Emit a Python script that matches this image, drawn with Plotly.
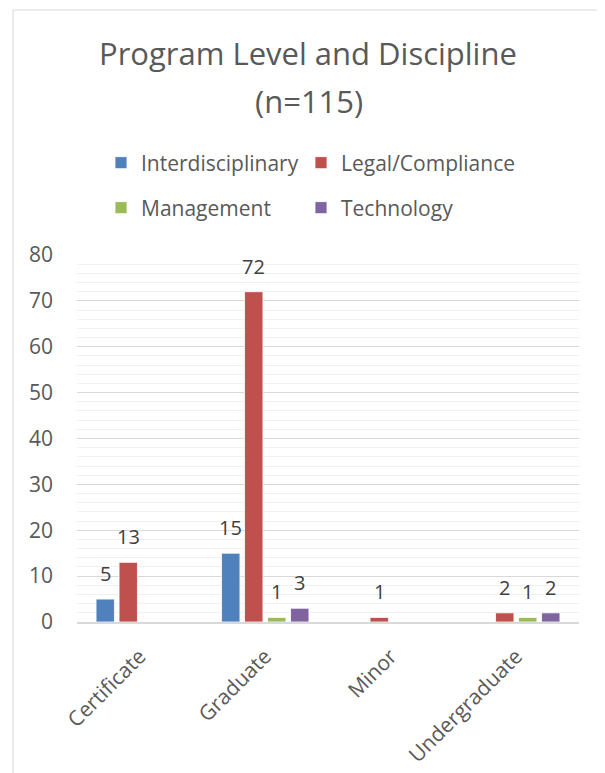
import plotly.graph_objects as go

categories = ["Certificate", "Graduate", "Minor", "Undergraduate"]
interdisciplinary = [5, 15, 0, 0]
legal_compliance = [13, 72, 1, 2]
management = [0, 1, 0, 1]
technology = [0, 3, 0, 2]

FONT = "'Open Sans', sans-serif"
OFF = 8  # page body margin
W, H = 597, 765
L, R, T, B = 69, 26, 247, 151
pw = W - L - R
ph = H - T - B


def px(xp):
    return (xp - OFF - L) / pw


def py(yp):
    return (H - B - (yp - OFF)) / ph


# name, values, colour, legend id, legend position (page px)
series = [
    ("Interdisciplinary", interdisciplinary, "#4f81bd", "legend", (101, 163)),
    ("Legal/Compliance", legal_compliance, "#c0504d", "legend2", (301, 163)),
    ("Management", management, "#9bbb59", "legend3", (101, 208)),
    ("Technology", technology, "#8064a2", "legend4", (301, 208)),
]

BAR_PITCH = 23

fig = go.Figure()
annotations = []
legends = {}
for i, (name, vals, color, lg, (lx, ly)) in enumerate(series):
    fig.add_trace(go.Bar(
        name=name, x=categories, y=vals,
        marker=dict(color=color, line=dict(color="white", width=0.8)),
        legend=lg,
    ))
    legends[lg] = dict(
        orientation="h", xanchor="left", yanchor="middle",
        xref="paper", yref="paper", x=px(lx), y=py(ly),
        font=dict(family=FONT, size=21, color="#595959"),
        itemclick=False, itemdoubleclick=False,
        bgcolor="rgba(0,0,0,0)",
    )
    for cat, v in zip(categories, vals):
        if v:
            annotations.append(dict(
                x=cat, y=v, xref="x", yref="y", text=str(v), showarrow=False,
                xanchor="center", yanchor="bottom",
                xshift=(i - 1.5) * BAR_PITCH, yshift=10,
                font=dict(family=FONT, size=20, color="#404040"),
            ))

annotations.append(dict(
    text="Program Level and Discipline", xref="paper", yref="paper",
    x=px(308), y=py(53), xanchor="center", yanchor="middle", showarrow=False,
    font=dict(family=FONT, size=31, color="#595959"),
))
annotations.append(dict(
    text="(n=115)", xref="paper", yref="paper",
    x=px(309), y=py(101), xanchor="center", yanchor="middle", showarrow=False,
    font=dict(family=FONT, size=31, color="#595959"),
))

fig.update_layout(
    width=W, height=H,
    margin=dict(l=L, r=R, t=T, b=B, autoexpand=False),
    paper_bgcolor="white", plot_bgcolor="white",
    barmode="group", bargap=0.267, bargroupgap=0.2,
    font=dict(family=FONT, color="#595959"),
    showlegend=True,
    xaxis=dict(
        tickangle=-45, showline=True, linecolor="#d9d9d9", linewidth=1.5,
        ticks="", tickfont=dict(family=FONT, size=21, color="#595959"),
        showgrid=False, ticklabelstandoff=12, automargin=False,
    ),
    yaxis=dict(
        range=[0, 80], dtick=10, tick0=0,
        showgrid=True, gridcolor="#d9d9d9", gridwidth=1,
        zeroline=False, showline=False, ticks="",
        tickfont=dict(family=FONT, size=21, color="#595959"),
        minor=dict(dtick=2, showgrid=True, gridcolor="#f0f0f0", gridwidth=1),
        ticklabelstandoff=23, automargin=False,
    ),
    annotations=annotations,
    shapes=[dict(
        type="rect", xref="paper", yref="paper",
        x0=px(13), x1=px(604), y0=py(800), y1=py(10),
        line=dict(color="#d9d9d9", width=1), fillcolor="rgba(0,0,0,0)",
        layer="below",
    )],
    **legends,
)

fig.write_html("out.html")
